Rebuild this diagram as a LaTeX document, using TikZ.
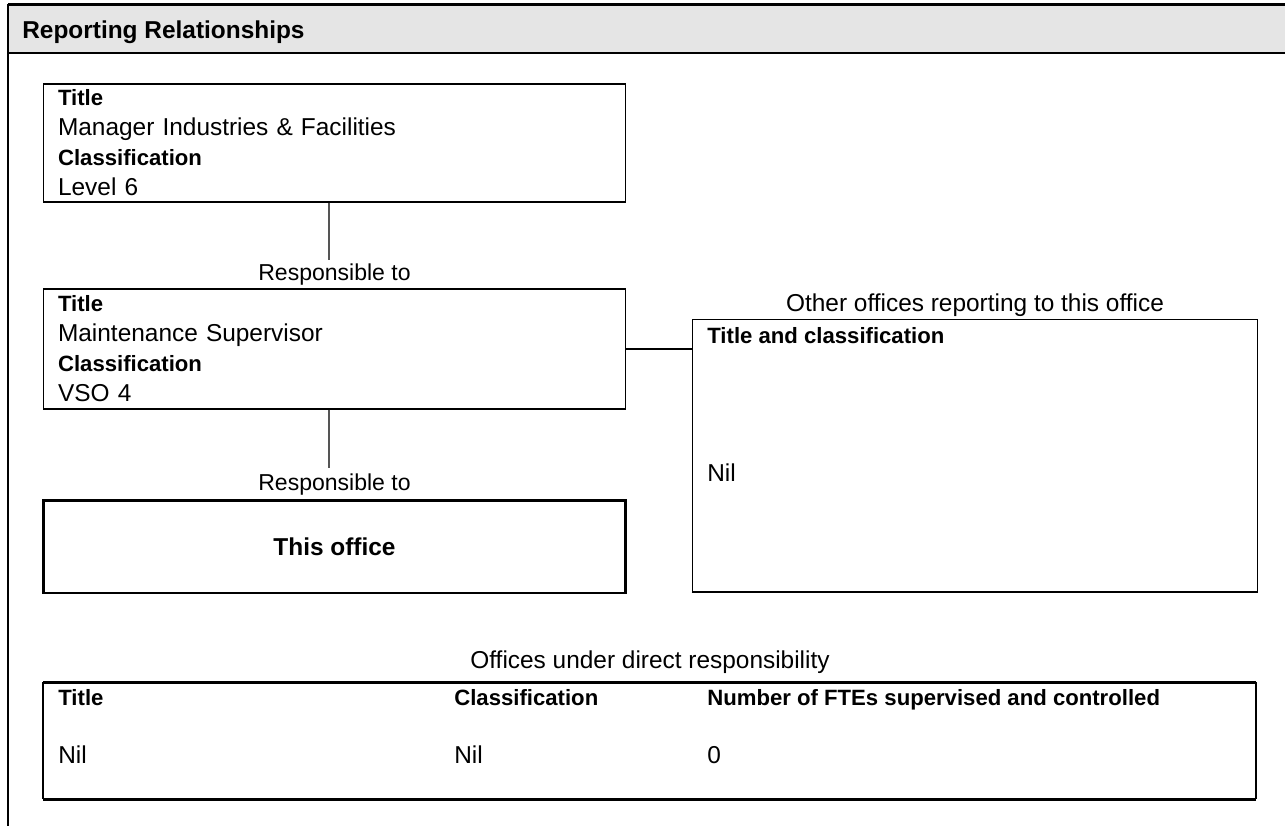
\documentclass[tikz,border=0pt]{standalone}
\usepackage{fontspec}
\setmainfont{Liberation Sans}
\usetikzlibrary{positioning,calc}
\definecolor{hdrgray}{HTML}{E5E5E5}
\definecolor{linkgray}{HTML}{555555}
\newcommand{\fieldname}[1]{{\fontsize{12.6pt}{17.07pt}\selectfont\bfseries #1}}

\begin{document}
\begin{tikzpicture}[x=0.02cm, y=-0.02cm,
    font=\fontsize{13.9pt}{17.07pt}\selectfont,
    thinline/.style={line width=0.6pt},
    thickline/.style={line width=1.7pt},
    posbox/.style={draw, thinline, minimum width=11.66cm, text width=11.06cm,
      align=left, inner xsep=0.3cm, inner ysep=0pt},
    linklabel/.style={inner sep=0pt},
    resplabel/.style={inner sep=0pt, font=\fontsize{13.1pt}{16pt}\selectfont},
    cell/.style={anchor=base west, inner sep=0pt},
    boldcell/.style={cell, font=\fontsize{12.6pt}{17pt}\selectfont\bfseries},
    link/.style={draw=linkgray, line width=0.6pt}]
  \useasboundingbox (0,0) rectangle (1285,826);
  % header band
  \fill[hdrgray] (8,4) rectangle (1285,53);
  \draw[thickline] (8,4) -- (1285,4);
  \draw[line width=1.3pt] (8,53) -- (1285,53);
  \draw[thinline] (8,4) -- (8,826);
  \node[cell, font=\fontsize{13.9pt}{17pt}\selectfont\bfseries] (head) at (22,38.5) {Reporting Relationships};

  % reporting chain
  \node[posbox, minimum height=2.36cm] (manager) at (334.5,143)
    {\fieldname{Title}\\Manager Industries \& Facilities\\\fieldname{Classification}\\Level 6};
  \node[posbox, minimum height=2.40cm] (supervisor) at (334.5,349)
    {\fieldname{Title}\\Maintenance Supervisor\\\fieldname{Classification}\\VSO 4};
  \node[draw, thickline, minimum width=11.66cm, minimum height=1.86cm,
    font=\fontsize{13.9pt}{17pt}\selectfont\bfseries] (office) at (334.5,546.5) {This office};

  \node[resplabel] (resp1) at (334.5,275) {Responsible to};
  \node[resplabel] (resp2) at (334.5,485) {Responsible to};
  \coordinate (top1) at (329,260);
  \coordinate (top2) at (329,468);
  \draw[link] (manager.south -| top1) -- (top1);
  \draw[link] (supervisor.south -| top2) -- (top2);

  % other offices
  \node[draw, thinline, minimum width=11.32cm, minimum height=5.46cm] (others) at (975,455.5) {};
  \draw[line width=1pt] (others.south west) -- (others.south east);
  \node[linklabel] (othershead) at (975,305) {Other offices reporting to this office};
  \node[boldcell] (otherstitle) at (707,343) {Title and classification};
  \node[cell] (othersnil) at (707,481.5) {Nil};
  \draw[thinline] (supervisor.east) -- (supervisor.east -| others.west);

  % offices under direct responsibility
  \node[linklabel] (tablehead) at (650,662) {Offices under direct responsibility};
  \coordinate (tnw) at (43,682);
  \coordinate (tse) at (1256,799);
  \draw[thinline] (tnw) -- (tnw |- tse);
  \draw[thinline] (tse |- tnw) -- (tse);
  \draw[thickline] (tnw) -- (tse |- tnw);
  \draw[thickline] (tnw |- tse) -- (tse);
  \node[boldcell] (coltitle) at (58,705) {Title};
  \node[boldcell] (colclass) at (454,705) {Classification};
  \node[boldcell] (colfte) at (707,705) {Number of FTEs supervised and controlled};
  \node[cell] (niltitle) at (58,763.5) {Nil};
  \node[cell] (nilclass) at (454,763.5) {Nil};
  \node[cell] (nilfte) at (707,763.5) {0};
\end{tikzpicture}
\end{document}
